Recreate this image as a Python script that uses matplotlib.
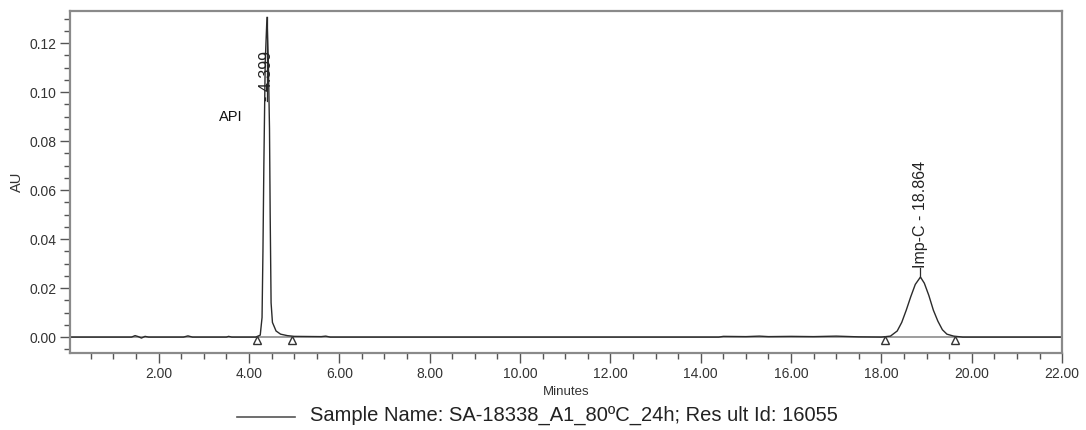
import matplotlib
matplotlib.use("Agg")
import matplotlib.pyplot as plt
from matplotlib.ticker import MultipleLocator, FormatStrFormatter

plt.rcParams['font.family'] = ['Liberation Sans', 'DejaVu Sans']

# Chromatogram trace (retention time in minutes, absorbance in AU)
time_min = [0.05, 1.40, 1.48, 1.55, 1.62, 1.70, 1.78, 2.55, 2.65, 2.75, 3.50, 3.55, 3.62,
            4.15, 4.25, 4.29, 4.31, 4.33, 4.36, 4.399, 4.43, 4.455, 4.47, 4.49, 4.52,
            4.60, 4.70, 4.85, 5.00, 5.60, 5.70, 5.80, 14.40, 14.50, 15.00, 15.30,
            15.50, 16.00, 16.50, 17.00, 17.50, 18.00, 18.20, 18.35, 18.45, 18.55,
            18.65, 18.75, 18.864, 18.95, 19.05, 19.15, 19.25, 19.35, 19.45, 19.60,
            19.80, 22.00]
absorbance = [0.0, 0.0, 0.0006, 0.0002, -0.0004, 0.0003, 0.0, 0.0, 0.0005, 0.0, 0.0, 0.0003, 0.0,
              0.0, 0.0008, 0.008, 0.035, 0.07, 0.112, 0.1305, 0.112, 0.085, 0.05, 0.014, 0.006,
              0.0025, 0.0012, 0.0006, 0.0003, 0.0002, 0.0004, 0.0, 0.0, 0.0003, 0.0002, 0.0004,
              0.0002, 0.0003, 0.0002, 0.0004, 0.0001, 0.0, 0.0004, 0.0025, 0.006, 0.011,
              0.0165, 0.0215, 0.0245, 0.022, 0.017, 0.011, 0.0065, 0.003, 0.0012, 0.0004,
              0.0, 0.0]

# Integrated peaks
peak_rt = [4.399, 18.864]
peak_height = [0.1305, 0.0245]
peak_labels = ["- 4.399", "Imp-C - 18.864"]
label_start = [0.0965, 0.028]
baseline_marks = [4.18, 4.95, 18.08, 19.62]

fig = plt.figure(figsize=(10.86, 4.30), dpi=100)
ax = fig.add_axes([0.0645, 0.179, 0.9135, 0.795])

ax.axhline(0.0, color="#8c8c8c", lw=1.2, zorder=1)
ax.plot(time_min, absorbance, color="#2b2b2b", lw=1.0, zorder=2)
ax.plot(baseline_marks, [-0.0013] * len(baseline_marks), linestyle="none", marker="^",
        markersize=6, markerfacecolor="white", markeredgecolor="#333333",
        markeredgewidth=1.0, zorder=3)

for rt, h, lab, y0 in zip(peak_rt, peak_height, peak_labels, label_start):
    ax.plot([rt, rt], [h, y0], color="#2b2b2b", lw=0.9, zorder=2)
    ax.text(rt, y0, lab, rotation=90, ha="center", va="bottom", fontsize=11.5,
            color="#222222", zorder=4)

ax.text(3.6, 0.0898, "API", ha="center", va="center", fontsize=10.5, color="#111111")

ax.set_xlim(0.04, 22.0)
ax.set_ylim(-0.0065, 0.133)

ax.xaxis.set_major_locator(MultipleLocator(2.0))
ax.xaxis.set_minor_locator(MultipleLocator(0.5))
ax.xaxis.set_major_formatter(FormatStrFormatter("%.2f"))
ax.yaxis.set_major_locator(MultipleLocator(0.02))
ax.yaxis.set_minor_locator(MultipleLocator(0.005))
ax.yaxis.set_major_formatter(FormatStrFormatter("%.2f"))

ax.tick_params(axis="both", which="major", direction="out", length=7, width=1.0,
               color="#555555", labelsize=10, labelcolor="#333333", pad=3)
ax.tick_params(axis="both", which="minor", direction="out", length=4, width=1.0,
               color="#555555")

for sp in ax.spines.values():
    sp.set_color("#8a8a8a")
    sp.set_linewidth(1.6)

ax.set_xlabel("Minutes", fontsize=9.5, color="#333333", labelpad=4)
ax.set_ylabel("AU", fontsize=10.5, color="#333333", labelpad=4)

# Legend entry under the axes
fig.lines.append(plt.Line2D([237 / 1086, 295 / 1086], [1 - 417 / 430] * 2,
                            transform=fig.transFigure, color="#555555", lw=1.2))
fig.text(310 / 1086, 1 - 415 / 430,
         "Sample Name: SA-18338_A1_80\u00baC_24h; Res ult Id: 16055",
         ha="left", va="center", fontsize=14.5, color="#222222")

fig.savefig("out.png", dpi=100)
